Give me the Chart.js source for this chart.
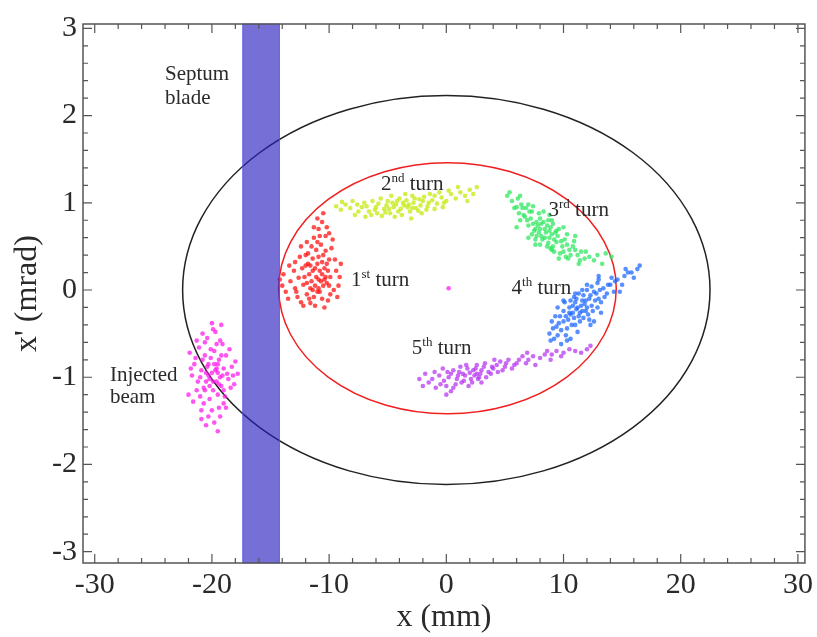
<!DOCTYPE html>
<html lang="en">
<head>
<meta charset="UTF-8">
<title>Injection phase space</title>
<script src="https://cdn.jsdelivr.net/npm/chart.js@4.4.0/dist/chart.umd.min.js"></script>
<style>
  html, body { margin: 0; padding: 0; background: #fff; }
</style>
</head>
<body>
<canvas id="chart" width="817" height="637"></canvas>
<script>
// tick labels
const xTicks = [-30, -20, -10, 0, 10, 20, 30];
const yTicks = [-3, -2, -1, 0, 1, 2, 3];

// ellipses: [centre x, centre y, half width (mm), half height (mrad)]
const outerEllipse = [0, 0, 22.5, 2.23];
const innerEllipse = [0.1, 0.02, 14.4, 1.44];

// septum blade, x range in mm
const septum = [-17.4, -14.2];

// particle clouds, [x (mm), x' (mrad)]
const injected = [[-20.0,-0.95],[-19.5,-0.85],[-20.5,-1.05],[-19.2,-1.10],[-20.8,-0.80],[-19.8,-0.70],[-20.2,-1.25],[-19.0,-0.90],[-21.0,-1.00],[-19.6,-1.05],[-20.4,-0.88],[-18.8,-0.75],[-21.3,-1.15],[-19.4,-1.35],[-20.6,-0.60],[-18.6,-1.02],[-21.5,-0.85],[-19.9,-1.15],[-20.1,-0.78],[-19.3,-0.58],[-20.9,-1.38],[-18.3,-0.88],[-21.7,-0.98],[-19.7,-0.48],[-20.3,-1.45],[-18.9,-1.22],[-21.1,-0.66],[-19.1,-0.98],[-20.7,-1.12],[-19.5,-0.95],[-18.1,-1.08],[-21.9,-0.72],[-20.0,-0.38],[-19.8,-1.52],[-20.5,-0.95],[-19.4,-0.80],[-17.8,-0.96],[-22.0,-1.20],[-20.2,-1.02],[-19.0,-1.30],
  [-19.7,-0.92],[-20.3,-0.85],[-19.3,-1.00],[-20.6,-1.15],[-19.9,-1.05],[-20.1,-0.68],[-19.5,-1.20],[-20.9,-0.92],[-18.7,-0.96],[-21.2,-1.05],[-19.2,-0.75],[-20.4,-0.55],[-19.6,-0.62],[-20.7,-1.30],[-19.0,-1.15],[-18.4,-1.12],[-21.4,-0.78],[-20.0,-1.38],[-19.3,-1.45],[-18.5,-0.68],[-21.6,-1.28],[-20.8,-0.50],[-19.8,-0.85],[-20.2,-1.10],[-19.4,-1.08],[-20.6,-0.75],[-18.2,-0.98],[-21.8,-0.90],[-19.1,-0.62],[-20.5,-1.55],[-19.9,-0.45],[-18.8,-1.35],[-21.0,-1.22],[-20.3,-0.98],[-19.6,-0.90],[-18.0,-0.82],[-21.3,-0.58],[-19.5,-1.62],[-20.9,-1.48],[-19.2,-0.40],[0.2,0.02]];
const turn1 = [[-10.9,0.12],[-10.6,0.18],[-11.2,0.05],[-10.4,0.25],[-11.5,0.10],[-10.8,-0.02],[-11.0,0.30],[-10.2,0.08],[-11.7,0.18],[-10.5,0.40],[-11.3,-0.08],[-10.7,0.52],[-12.2,0.06],[-9.9,0.15],[-11.9,-0.05],[-10.3,0.62],[-12.6,0.14],[-10.0,0.35],[-11.4,0.36],[-12.9,0.02],[-9.6,0.00],[-10.9,0.70],[-13.3,0.10],[-11.6,-0.15],[-10.1,-0.12],[-12.0,0.28],[-9.4,0.22],[-13.7,-0.02],[-10.6,0.78],[-11.1,0.46],[-12.4,-0.14],[-9.8,0.48],[-11.8,0.42],[-10.4,-0.20],[-13.0,0.22],[-9.2,0.05],[-11.3,0.60],[-12.7,-0.08],[-10.8,0.22],[-11.1,0.15],[-10.5,0.05],[-11.4,0.22],[-10.2,0.30],[-12.1,0.15],[-11.0,-0.02],[-10.7,0.10],[-9.0,0.30],[-14.0,0.05],[-10.0,0.65],[-11.9,0.55],
  [-11.2,0.25],[-10.3,0.15],[-11.6,0.02],[-10.9,0.38],[-11.8,0.30],[-10.1,0.22],[-12.3,0.25],[-12.8,-0.02],[-13.4,0.28],[-13.9,0.18],[-12.5,0.38],[-9.5,0.35],[-9.3,-0.08],[-10.6,-0.10],[-11.9,0.08],[-12.2,-0.18],[-11.0,0.55],[-10.3,0.45],[-10.8,0.62],[-11.5,0.50],[-10.2,0.72],[-11.3,0.72],[-9.7,0.58],[-10.0,0.05],[-11.4,0.00],[-12.0,0.40],[-13.5,-0.10],[-9.9,-0.05],[-10.6,0.32],[-11.7,-0.10],[-12.9,0.32],[-14.2,0.12],[-9.1,0.15],[-10.5,0.88],[-11.0,0.82],[-12.4,0.50],[-11.2,-0.18],[-10.9,0.02],[-10.4,0.12],[-11.6,0.28]];
const turn2 = [[-3.6,0.97],[-4.5,0.95],[-2.8,1.00],[-5.3,0.93],[-2.0,1.02],[-6.1,0.92],[-1.2,1.03],[-3.1,0.90],[-4.0,1.05],[-6.8,0.96],[-0.4,1.06],[-5.0,1.02],[-2.4,0.91],[-7.5,0.90],[0.4,1.10],[-3.8,0.86],[-4.8,0.88],[-1.6,0.96],[-8.2,0.94],[1.2,1.12],[-5.8,0.99],[-2.9,1.08],[-6.4,0.86],[-0.8,0.99],[-9.0,0.92],[2.0,1.15],[-3.3,0.95],[-4.3,0.98],[-1.9,1.07],[-7.0,1.00],[-5.5,0.85],[0.0,1.02],[-3.0,0.82],[-8.6,0.98],[2.6,1.18],[-4.7,1.08],[-6.0,0.95],[-2.2,0.97],[-1.0,1.08],[-3.9,0.93],
  [-3.4,1.03],[-4.1,0.90],[-2.6,0.94],[-5.1,0.97],[-1.5,1.00],[-5.6,1.05],[-6.6,0.90],[-7.2,0.95],[-0.2,1.00],[0.8,1.05],[1.6,1.08],[-2.1,0.88],[-4.4,0.84],[-3.5,1.10],[-7.8,0.86],[-8.0,1.02],[-9.4,0.96],[-1.0,0.93],[-0.6,1.12],[-2.7,1.05],[-5.9,0.88],[-6.3,1.02],[-4.9,0.93],[-3.7,1.00],[-2.3,1.04],[0.2,1.14],[1.0,1.18],[2.3,1.10],[-6.9,0.84],[-3.2,0.98],[-1.4,1.10],[-4.6,1.00],[-5.2,0.89],[-8.9,1.01],[-7.6,0.98],[1.8,1.02],[-0.3,0.95],[-2.9,0.94],[-4.2,1.02],[-1.7,0.92]];
const turn3 = [[8.5,0.66],[7.8,0.74],[9.2,0.58],[7.2,0.82],[9.9,0.50],[8.1,0.62],[8.9,0.72],[6.6,0.86],[10.5,0.46],[7.5,0.68],[9.5,0.62],[8.3,0.78],[8.7,0.54],[6.0,0.95],[11.2,0.40],[7.0,0.74],[10.1,0.58],[9.0,0.46],[7.9,0.88],[5.6,1.02],[11.8,0.36],[8.4,0.70],[9.3,0.66],[6.8,0.94],[10.8,0.50],[7.6,0.58],[8.8,0.60],[5.2,1.08],[12.6,0.34],[6.3,0.80],[9.7,0.42],[8.0,0.70],[13.6,0.42],[7.3,0.90],[10.3,0.64],[8.6,0.50],[6.1,1.05],[11.0,0.46],[9.1,0.76],[7.7,0.78],
  [8.2,0.58],[8.8,0.68],[7.9,0.66],[9.4,0.55],[7.4,0.76],[8.6,0.74],[9.8,0.56],[7.1,0.90],[6.5,0.94],[6.9,0.80],[10.3,0.52],[10.6,0.40],[9.6,0.70],[8.0,0.82],[7.7,0.62],[6.4,0.98],[5.8,0.94],[5.4,1.12],[11.5,0.44],[12.2,0.38],[12.9,0.40],[13.3,0.30],[10.0,0.44],[9.1,0.50],[8.4,0.60],[7.6,0.70],[6.7,0.84],[8.1,0.76],[9.0,0.64],[10.9,0.56],[11.4,0.34],[7.3,0.64],[8.9,0.48],[6.2,0.88],[9.4,0.68],[10.2,0.38],[14.1,0.38],[7.0,0.98],[8.7,0.80],[11.9,0.44],
  [7.0,0.60],[7.4,0.96],[8.0,0.52],[8.3,0.90],[9.0,0.80],[9.2,0.44],[10.0,0.72],[10.4,0.36],[6.0,0.72],[6.3,1.08],[11.0,0.62],[11.3,0.30],[7.6,0.52],[8.8,0.86],[9.6,0.36]];
const turn4 = [[11.5,-0.18],[10.8,-0.26],[12.2,-0.10],[10.2,-0.30],[12.8,-0.04],[11.0,-0.14],[11.9,-0.24],[9.6,-0.38],[13.4,0.02],[10.5,-0.20],[12.4,-0.18],[11.3,-0.30],[11.7,-0.06],[9.1,-0.44],[14.0,0.06],[10.0,-0.24],[13.0,-0.10],[12.0,0.00],[10.7,-0.40],[8.8,-0.50],[14.6,0.12],[11.1,-0.22],[12.6,-0.02],[9.8,-0.46],[13.7,-0.04],[10.4,-0.34],[11.6,-0.12],[15.2,0.16],[9.3,-0.30],[12.9,0.08],[10.9,-0.08],[11.4,-0.36],[15.8,0.20],[13.2,-0.14],[9.5,-0.52],[12.1,-0.28],[16.3,0.24],[10.1,-0.14],[14.3,-0.02],[11.8,-0.16],
  [11.2,-0.20],[11.9,-0.12],[10.6,-0.28],[12.3,-0.06],[11.4,-0.26],[10.9,-0.32],[12.7,-0.12],[10.0,-0.36],[9.4,-0.42],[9.0,-0.36],[8.9,-0.58],[13.1,0.00],[13.8,0.06],[14.4,0.10],[15.0,0.06],[15.5,0.20],[16.0,0.14],[16.5,0.28],[12.5,-0.24],[11.0,-0.40],[10.3,-0.44],[11.7,-0.32],[12.0,-0.20],[12.9,-0.20],[13.5,-0.08],[10.6,-0.12],[11.3,-0.04],[12.4,0.04],[9.7,-0.30],[10.2,-0.52],[14.8,-0.02],[13.0,0.12],[11.6,-0.24],[10.8,-0.18],[12.2,-0.34],[9.2,-0.56],[15.3,0.24],[14.1,0.14],[11.1,-0.10],[10.5,-0.26],
  [10.0,-0.12],[10.3,-0.58],[11.0,-0.04],[11.2,-0.48],[12.0,0.06],[12.3,-0.40],[13.0,0.16],[13.2,-0.26],[9.5,-0.20],[9.8,-0.62],[11.6,0.00],[12.6,-0.36],[10.6,-0.56]];
const turn5 = [[2.0,-0.95],[1.0,-0.98],[3.0,-0.92],[0.2,-1.00],[4.0,-0.90],[1.5,-1.04],[2.6,-0.86],[-0.6,-0.98],[5.0,-0.88],[0.6,-0.92],[3.4,-1.00],[2.2,-1.06],[1.2,-0.88],[-1.2,-1.02],[6.0,-0.84],[2.9,-0.96],[4.6,-0.82],[0.0,-1.10],[1.8,-0.90],[7.0,-0.80],[-1.8,-0.96],[3.8,-0.96],[0.8,-1.08],[5.6,-0.90],[2.4,-0.98],[8.0,-0.78],[-0.3,-0.90],[4.3,-0.86],[1.4,-0.96],[9.0,-0.74],[3.2,-0.88],[6.5,-0.76],[-0.9,-1.12],[10.0,-0.72],[2.7,-1.02],[5.3,-0.80],[11.0,-0.70],[0.4,-1.16],[7.6,-0.86],[12.0,-0.68],[-2.0,-1.10],[8.6,-0.70],
  [1.6,-0.98],[2.3,-0.92],[0.9,-1.02],[3.6,-0.94],[1.1,-0.94],[2.8,-1.00],[0.4,-0.96],[3.3,-0.84],[4.8,-0.92],[5.8,-0.86],[6.8,-0.84],[7.4,-0.76],[8.4,-0.74],[9.4,-0.70],[10.5,-0.68],[11.5,-0.72],[12.3,-0.64],[-0.2,-1.04],[-1.0,-0.94],[-1.5,-1.06],[0.6,-1.12],[1.9,-1.10],[2.5,-0.90],[3.9,-0.88],[4.4,-0.94],[5.1,-0.84],[6.2,-0.80],[1.3,-1.06],[2.1,-1.02],[0.1,-0.94],[-0.5,-1.08],[3.0,-1.06],[4.1,-0.80],[6.9,-0.72],[8.9,-0.80],[-2.3,-1.02],[1.7,-0.86],[2.6,-0.96],[0.0,-1.20],[9.8,-0.76]];

// text on the plot: [text, superscript, rest, x, y of baseline]
const notes = [
  ['Septum', '', '', -24.0, 2.41],
  ['blade', '', '', -24.0, 2.13],
  ['1', 'st', ' turn', -8.13, 0.05],
  ['2', 'nd', ' turn', -5.57, 1.15],
  ['3', 'rd', ' turn', 8.72, 0.85],
  ['4', 'th', ' turn', 5.57, -0.04],
  ['5', 'th', ' turn', -2.94, -0.73],
  ['Injected', '', '', -28.7, -1.04],
  ['beam', '', '', -28.7, -1.30]
];

const serif = '"Liberation Serif", "Times New Roman", serif';
const toXY = pts => pts.map(p => ({x: p[0], y: p[1]}));

const decor = {
  id: 'decor',
  beforeDatasetsDraw(chart) {
    const {ctx, scales: {x, y}} = chart;
    [[outerEllipse, '#222'], [innerEllipse, '#f02020']].forEach(([e, col]) => {
      const cx = x.getPixelForValue(e[0]), cy = y.getPixelForValue(e[1]);
      const rx = Math.abs(x.getPixelForValue(e[0] + e[2]) - cx);
      const ry = Math.abs(y.getPixelForValue(e[1] + e[3]) - cy);
      ctx.save();
      ctx.beginPath();
      ctx.ellipse(cx, cy, rx, ry, 0, 0, 2 * Math.PI);
      ctx.strokeStyle = col;
      ctx.lineWidth = 1.5;
      ctx.stroke();
      ctx.restore();
    });
  },
  afterDatasetsDraw(chart) {
    const {ctx, chartArea: a, scales: {x, y}} = chart;
    ctx.save();
    // septum blade
    const x0 = x.getPixelForValue(septum[0]), x1 = x.getPixelForValue(septum[1]);
    ctx.fillStyle = 'rgba(40, 30, 190, 0.64)';
    ctx.fillRect(x0, a.top, x1 - x0, a.bottom - a.top);
    ctx.strokeStyle = 'rgba(90, 90, 240, 0.7)';
    ctx.lineWidth = 1;
    ctx.strokeRect(x0 + 0.5, a.top, x1 - x0 - 1, a.bottom - a.top);

    // frame and inward ticks
    ctx.strokeStyle = '#555';
    ctx.lineWidth = 1.5;
    ctx.strokeRect(a.left, a.top, a.right - a.left, a.bottom - a.top);
    ctx.lineWidth = 1.2;
    ctx.beginPath();
    for (let v = -30; v <= 30; v += 2) {
      const px = x.getPixelForValue(v);
      const len = v % 10 === 0 ? 9 : 5;
      ctx.moveTo(px, a.bottom); ctx.lineTo(px, a.bottom - len);
      ctx.moveTo(px, a.top); ctx.lineTo(px, a.top + len);
    }
    for (let i = -15; i <= 15; i++) {
      const py = y.getPixelForValue(i / 5);
      const len = i % 5 === 0 ? 9 : 5;
      ctx.moveTo(a.left, py); ctx.lineTo(a.left + len, py);
      ctx.moveTo(a.right, py); ctx.lineTo(a.right - len, py);
    }
    ctx.stroke();

    // annotations
    ctx.fillStyle = '#2a2a2a';
    ctx.textBaseline = 'alphabetic';
    notes.forEach(([main, sup, rest, vx, vy]) => {
      let px = x.getPixelForValue(vx);
      const py = y.getPixelForValue(vy);
      ctx.font = '21px ' + serif;
      ctx.fillText(main, px, py);
      px += ctx.measureText(main).width;
      if (sup) {
        ctx.font = '13px ' + serif;
        ctx.fillText(sup, px, py - 8);
        px += ctx.measureText(sup).width;
        ctx.font = '21px ' + serif;
        ctx.fillText(rest, px, py);
      }
    });
    ctx.restore();
  }
};

const cloud = (pts, col) => ({
  data: toXY(pts),
  backgroundColor: col,
  borderWidth: 0,
  pointRadius: 2.3
});

new Chart(document.getElementById('chart'), {
  type: 'scatter',
  data: {
    datasets: [
      cloud(injected, 'rgba(255, 20, 235, 0.72)'),
      cloud(turn1, 'rgba(255, 10, 10, 0.72)'),
      cloud(turn2, 'rgba(200, 235, 30, 0.8)'),
      cloud(turn3, 'rgba(40, 230, 90, 0.72)'),
      cloud(turn4, 'rgba(25, 100, 255, 0.72)'),
      cloud(turn5, 'rgba(180, 50, 240, 0.72)')
    ]
  },
  options: {
    responsive: false,
    animation: false,
    layout: { padding: { top: 13, right: 10, left: 0, bottom: 0 } },
    plugins: { legend: { display: false }, tooltip: { enabled: false } },
    scales: {
      x: {
        type: 'linear',
        min: -31,
        max: 30.6,
        afterBuildTicks: s => { s.ticks = xTicks.map(v => ({value: v})); },
        afterFit: s => { s.height = 74; },
        grid: { display: false, drawTicks: false },
        border: { display: false },
        ticks: { font: { family: serif, size: 30 }, color: '#2a2a2a', padding: 4, maxRotation: 0, autoSkip: false },
        title: { display: true, text: 'x (mm)', font: { family: serif, size: 32 }, color: '#2a2a2a', padding: 0 }
      },
      y: {
        type: 'linear',
        min: -3.13,
        max: 3.05,
        afterBuildTicks: s => { s.ticks = yTicks.map(v => ({value: v})); },
        afterFit: s => { s.width = 83; },
        grid: { display: false, drawTicks: false },
        border: { display: false },
        ticks: { font: { family: serif, size: 30 }, color: '#2a2a2a', padding: 6, autoSkip: false },
        title: { display: true, text: "x' (mrad)", font: { family: serif, size: 32 }, color: '#2a2a2a', padding: { top: 8, bottom: 0 } }
      }
    }
  },
  plugins: [decor]
});
</script>
</body>
</html>
